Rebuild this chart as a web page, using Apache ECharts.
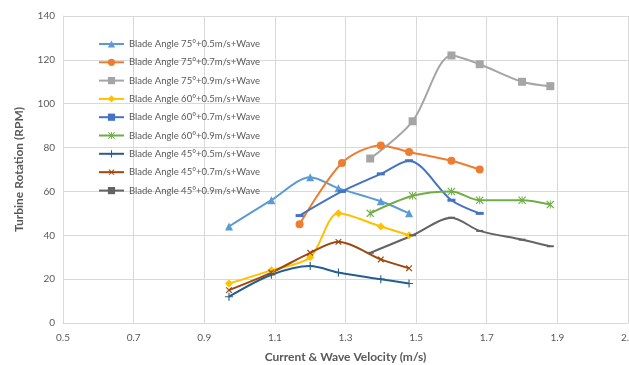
<!DOCTYPE html>
<html><head><meta charset="utf-8">
<script src="https://cdn.jsdelivr.net/npm/echarts@6/dist/echarts.min.js"></script>
<style>html,body{margin:0;padding:0;background:#fff}#c{width:629px;height:365px}</style>
</head><body><div id="c"></div>
<script>
const seriesNames = [
  'Blade Angle 75°+0.5m/s+Wave','Blade Angle 75°+0.7m/s+Wave','Blade Angle 75°+0.9m/s+Wave',
  'Blade Angle 60°+0.5m/s+Wave','Blade Angle 60°+0.7m/s+Wave','Blade Angle 60°+0.9m/s+Wave',
  'Blade Angle 45°+0.5m/s+Wave','Blade Angle 45°+0.7m/s+Wave','Blade Angle 45°+0.9m/s+Wave'
];
const xLow  = [0.97, 1.09, 1.2, 1.28, 1.4, 1.48];
const xMid  = [1.17, 1.29, 1.4, 1.48, 1.6, 1.68];
const xHigh = [1.37, 1.49, 1.6, 1.68, 1.8, 1.88];
const y75_05 = [44, 56, 66.5, 61.5, 55.5, 50];
const y75_07 = [45, 73, 81, 78, 74, 70];
const y75_09 = [75, 92, 122, 118, 110, 108];
const y60_05 = [18, 24, 30, 50, 44, 40];
const y60_07 = [49, 60, 68, 74, 56, 50];
const y60_09 = [50, 58, 60, 56, 56, 54];
const y45_05 = [12, 22, 26, 23, 20, 18];
const y45_07 = [15, 23, 32, 37, 29, 25];
const y45_09 = [32, 40, 48, 42, 38, 35];
const xTicks = [0.5, 0.7, 0.9, 1.1, 1.3, 1.5, 1.7, 1.9, 2.1];
const yTicks = [0, 20, 40, 60, 80, 100, 120, 140];

const xs = [xLow, xMid, xHigh, xLow, xMid, xHigh, xLow, xLow, xHigh];
const ys = [y75_05, y75_07, y75_09, y60_05, y60_07, y60_09, y45_05, y45_07, y45_09];
const colors = ['#5B9BD5','#ED7D31','#A5A5A5','#FFC000','#4472C4','#70AD47','#255E91','#9E480E','#636363'];
const plus = 'path://M4.3,0H5.7V4.3H10V5.7H5.7V10H4.3V5.7H0V4.3H4.3Z';
const star = 'path://M0,1L1,0L5,4L9,0L10,1L6,5L10,9L9,10L5,6L1,10L0,9L4,5Z M4.4,0H5.6V10H4.4Z';
const symbols = ['triangle','circle','rect','diamond','rect',star,plus,plus,'rect'];
const sizes = [8,8,8,8,[8,3],8,8,8,[7,2]];
const rot = [0,0,0,0,0,0,0,45,0];

const series = seriesNames.map((n,i)=>({
  name:n, type:'line', smooth:0.3,
  data: xs[i].map((x,j)=>[x, ys[i][j]]),
  symbol: symbols[i], symbolSize: sizes[i], symbolRotate: rot[i], showSymbol:true,
  lineStyle:{color:colors[i], width:2},
  itemStyle:{color:colors[i]},
  z: 3
}));

const FONT = 'Lato, "Open Sans", sans-serif';
const chart = echarts.init(document.getElementById('c'), null, {renderer:'canvas'});
chart.setOption({
  animation:false,
  textStyle:{fontFamily:FONT},
  grid:{left:63, right:1, top:16, bottom:42, containLabel:false, outerBoundsMode:'none'},
  legend:{
    orient:'vertical', left:98, top:39, padding:0, itemWidth:25, itemHeight:9, itemGap:8.3,
    textStyle:{fontSize:9.5, color:'#595959', fontFamily:FONT},
    data:seriesNames
  },
  xAxis:{
    type:'value', min:xTicks[0], max:xTicks[xTicks.length-1], interval:0.2,
    axisLine:{show:true, lineStyle:{color:'#D9D9D9'}}, axisTick:{show:false},
    splitLine:{show:true, lineStyle:{color:'#D9D9D9', width:1}},
    axisLabel:{fontSize:10, color:'#595959', margin:10, formatter:v=>String(+v.toFixed(1))},
    name:'Current & Wave Velocity (m/s)', nameLocation:'middle', nameGap:28,
    nameTextStyle:{fontSize:12, fontWeight:'bold', color:'#595959'}
  },
  yAxis:{
    type:'value', min:yTicks[0], max:yTicks[yTicks.length-1], interval:20,
    axisLine:{show:true, lineStyle:{color:'#D9D9D9'}}, axisTick:{show:false},
    splitLine:{show:true, lineStyle:{color:'#D9D9D9', width:1}},
    axisLabel:{fontSize:10, color:'#595959', margin:8},
    name:'Turbine Rotation (RPM)', nameLocation:'middle', nameGap:38,
    nameTextStyle:{fontSize:12, fontWeight:'bold', color:'#595959'}
  },
  series
});
</script></body></html>
